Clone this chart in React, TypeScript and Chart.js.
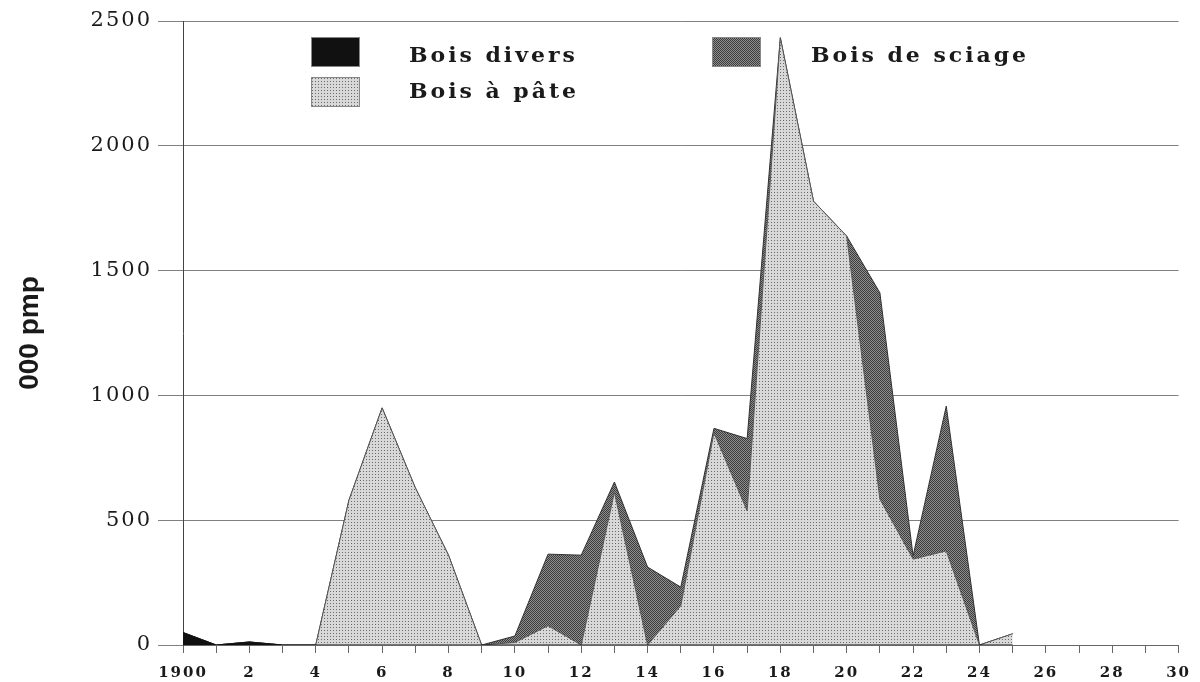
import React, { useEffect, useRef } from "react";
import { Chart, registerables } from "chart.js";

Chart.register(...registerables);

// ---- Data ----
const years = [
  1900, 1901, 1902, 1903, 1904, 1905, 1906, 1907, 1908, 1909,
  1910, 1911, 1912, 1913, 1914, 1915, 1916, 1917, 1918, 1919,
  1920, 1921, 1922, 1923, 1924, 1925,
];
const boisDivers = [
  50, 0, 12, 0, 0, 0, 0, 0, 0, 0,
  0, 0, 0, 0, 0, 0, 0, 0, 0, 0,
  0, 0, 0, 0, 0, 0,
];
const boisAPate = [
  0, 0, 0, 0, 0, 580, 950, 630, 360, 0,
  10, 77, 0, 612, 0, 157, 850, 537, 2433, 1778,
  1638, 584, 344, 377, 0, 45,
];
const boisDeSciage = [
  0, 0, 0, 0, 0, 0, 0, 0, 0, 0,
  26, 287, 360, 41, 312, 75, 18, 290, 0, 0,
  0, 827, 13, 580, 0, 0,
];
const seriesLabels = ["Bois divers", "Bois à pâte", "Bois de sciage"];
const yTitle = "000 pmp";
const xMin = 1900;
const xMax = 1930;
const yMax = 2500;
const yStep = 500;

function makeDotPattern(
  ctx: CanvasRenderingContext2D,
  size: number,
  bg: string,
  fg: string,
  dots: number[][]
) {
  const c = document.createElement("canvas");
  c.width = size;
  c.height = size;
  const g = c.getContext("2d")!;
  g.fillStyle = bg;
  g.fillRect(0, 0, size, size);
  g.fillStyle = fg;
  for (const [x, y] of dots) g.fillRect(x, y, 1, 1);
  return ctx.createPattern(c, "repeat")!;
}

const legendPlugin = {
  id: "customLegend",
  beforeDraw(chart: any) {
    chart.ctx.letterSpacing = "2px";
  },
  afterDraw(chart: any) {
    const ctx = chart.ctx as CanvasRenderingContext2D;
    (ctx as any).letterSpacing = "0px";
    // y-axis title
    const area = chart.chartArea;
    ctx.save();
    ctx.translate(30, (area.top + area.bottom) / 2);
    ctx.rotate(-Math.PI / 2);
    ctx.font = "bold 28px 'Liberation Sans', sans-serif";
    ctx.fillStyle = "#1a1a1a";
    ctx.textAlign = "center";
    ctx.textBaseline = "middle";
    ctx.fillText(yTitle, 0, 0);
    ctx.restore();

    const places = [
      { ds: 0, bx: 311, by: 37, tx: 409, ty: 62 },
      { ds: 2, bx: 712, by: 37, tx: 811, ty: 62 },
      { ds: 1, bx: 311, by: 77, tx: 409, ty: 98 },
    ];
    for (const p of places) {
      const ds = chart.data.datasets[p.ds];
      ctx.save();
      ctx.fillStyle = ds.backgroundColor;
      ctx.fillRect(p.bx, p.by, 49, 30);
      ctx.strokeStyle = "#888";
      ctx.lineWidth = 1;
      ctx.strokeRect(p.bx + 0.5, p.by + 0.5, 48, 29);
      ctx.translate(p.tx, p.ty);
      ctx.scale(1.1, 1);
      (ctx as any).letterSpacing = "2.7px";
      ctx.font = "bold 20px 'DejaVu Serif'";
      ctx.textBaseline = "alphabetic";
      ctx.textAlign = "left";
      ctx.fillStyle = "#1a1a1a";
      ctx.fillText(ds.label, 0, 0);
      ctx.restore();
    }
    (ctx as any).letterSpacing = "0px";
  },
};

export default function App() {
  const ref = useRef<HTMLCanvasElement | null>(null);

  useEffect(() => {
    document.body.style.margin = "0";
    const canvas = ref.current!;
    const ctx = canvas.getContext("2d")!;
    const pulpPattern = makeDotPattern(ctx, 3, "#d8d8d8", "#6a6a6a", [[0, 0]]);
    const sawPattern = makeDotPattern(ctx, 2, "#8e8e8e", "#3c3c3c", [[0, 0], [1, 1]]);

    const toPts = (arr: number[]) => years.map((x, i) => ({ x, y: arr[i] }));

    const chart = new Chart(canvas, {
      type: "line",
      data: {
        datasets: [
          {
            label: seriesLabels[0],
            data: toPts(boisDivers),
            fill: "origin",
            backgroundColor: "#111",
            borderColor: "#111",
            borderWidth: 1,
            pointRadius: 0,
            tension: 0,
          },
          {
            label: seriesLabels[1],
            data: toPts(boisAPate),
            fill: "-1",
            backgroundColor: pulpPattern as any,
            borderColor: "#555",
            borderWidth: 1,
            pointRadius: 0,
            tension: 0,
          },
          {
            label: seriesLabels[2],
            data: toPts(boisDeSciage),
            fill: "-1",
            backgroundColor: sawPattern as any,
            borderColor: "#333",
            borderWidth: 1,
            pointRadius: 0,
            tension: 0,
          },
        ],
      },
      options: {
        animation: false,
        responsive: false,
        devicePixelRatio: 1,
        layout: { padding: { top: 21, right: 14, bottom: 0, left: 0 } },
        plugins: {
          legend: { display: false },
          tooltip: { enabled: false },
        },
        scales: {
          x: {
            type: "linear",
            min: xMin,
            max: xMax,
            ticks: {
              stepSize: 1,
              autoSkip: false,
              maxRotation: 0,
              padding: 11,
              color: "#1a1a1a",
              font: { family: "'DejaVu Serif'", size: 15, weight: "bold" },
              callback: (v: any) => {
                const n = Math.round(Number(v));
                if (n % 2 !== 0) return "";
                return n === xMin ? String(n) : String(n - xMin);
              },
            },
            grid: { drawOnChartArea: false, drawTicks: true, tickLength: 8, color: "#666" },
            border: { display: true, color: "#666" },
            afterFit: (s: any) => {
              s.height = 37;
            },
          },
          y: {
            stacked: true,
            min: 0,
            max: yMax,
            ticks: {
              stepSize: yStep,
              padding: 6,
              color: "#1a1a1a",
              font: { family: "'DejaVu Serif'", size: 21 },
              callback: (v: any) => String(Math.round(Number(v))),
            },
            grid: { color: "#808080", lineWidth: 1, tickLength: 25 },
            border: { display: true, color: "#444" },
            afterFit: (s: any) => {
              s.width = 183;
            },
          },
        },
      },
      plugins: [legendPlugin],
    });

    return () => chart.destroy();
  }, []);

  return (
    <div style={{ width: 1200, height: 682 }}>
      <canvas ref={ref} width={1200} height={682} style={{ display: "block" }} />
    </div>
  );
}
